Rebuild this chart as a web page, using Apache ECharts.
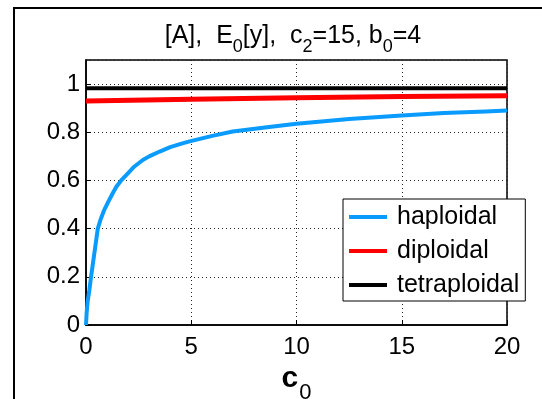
<!DOCTYPE html>
<html>
<head>
<meta charset="utf-8">
<script src="https://cdn.jsdelivr.net/npm/echarts@6/dist/echarts.min.js"></script>
<style>
  html, body { margin: 0; padding: 0; background: #fff; }
  #chart { width: 542px; height: 399px; }
</style>
</head>
<body>
<div id="chart"></div>
<script>
// values
const hapC = [0, 0.03, 0.08, 0.16, 0.24, 0.32, 0.4, 0.48, 0.56, 0.7, 0.87, 1.05, 1.27, 1.45, 1.67, 2.0, 2.3, 2.7, 3.0, 3.5, 4.0, 4.5, 4.92, 6.0, 6.97, 8.5, 10, 12.5, 15, 17, 19, 20]
const hapY = [0, 0.05, 0.1, 0.145, 0.2, 0.25, 0.3, 0.35, 0.4, 0.44, 0.478, 0.51, 0.547, 0.575, 0.6, 0.63, 0.658, 0.685, 0.7, 0.72, 0.738, 0.752, 0.762, 0.785, 0.803, 0.82, 0.835, 0.855, 0.87, 0.88, 0.886, 0.89]
const dipC = [0, 5, 10, 15, 20]
const dipY = [0.93, 0.937, 0.943, 0.948, 0.952]
const tetC = [0, 20]
const tetY = [0.983, 0.983]
const xTicks = [0, 5, 10, 15, 20]
const yTicks = [0, 0.2, 0.4, 0.6, 0.8, 1]

const zip = (xs, ys) => xs.map((x, i) => [x, ys[i]])
const FONT = 'Liberation Sans, Arial, sans-serif'

const chart = echarts.init(document.getElementById('chart'), null, { renderer: 'canvas' })

const dotted = { color: '#222', width: 1, type: [1, 3] }

chart.setOption({
  animation: false,
  backgroundColor: '#fff',
  textStyle: { fontFamily: FONT },
  graphic: [
    {
      type: 'polyline',
      shape: { points: [[14, 420], [14, 8], [560, 8]] },
      style: { stroke: '#000', lineWidth: 2, fill: null },
      silent: true,
    },
    {
      type: 'text',
      x: 293,
      y: 24,
      silent: true,
      style: {
        text: '{n|[A],  E}{s|0}{n|[y],  c}{s|2}{n|=15, b}{s|0}{n|=4}',
        align: 'center',
        verticalAlign: 'top',
        rich: {
          n: { fontSize: 25, fontFamily: FONT, fill: '#000', lineHeight: 30, verticalAlign: 'top' },
          s: { fontSize: 18, fontFamily: FONT, fill: '#000', lineHeight: 30, padding: [14, 0, 0, 0], verticalAlign: 'top' },
        },
      },
    },
  ],
  grid: {
    left: 86, right: 35, top: 60, bottom: 74,
    outerBoundsMode: 'none',
    containLabel: false,
    show: true, borderColor: '#000', borderWidth: 1.5, backgroundColor: '#fff',
  },
  legend: {
    left: 343,
    top: 199,
    orient: 'vertical',
    backgroundColor: '#fff',
    borderColor: '#000',
    borderWidth: 1,
    borderRadius: 0,
    padding: [5, 6, 3, 6],
    itemGap: 8,
    itemWidth: 38,
    itemHeight: 4,
    icon: 'rect',
    textStyle: { fontSize: 25, fontFamily: FONT, color: '#000', lineHeight: 26, padding: [0, 0, 0, 5] },
    data: ['haploidal', 'diploidal', 'tetraploidal'],
  },
  xAxis: {
    type: 'value',
    min: 0, max: 20, interval: 5,
    axisLine: { show: true, lineStyle: { color: '#000', width: 1.5 } },
    axisTick: { show: true, inside: true, length: 5, lineStyle: { color: '#000' } },
    axisLabel: {
      color: '#000', fontSize: 24, margin: 10, fontFamily: FONT,
      formatter: (v) => (xTicks.includes(v) ? String(v) : ''),
    },
    splitLine: { show: true, lineStyle: dotted },
    name: '{c|c}{s|0}',
    nameLocation: 'middle',
    nameGap: 36,
    nameTextStyle: {
      rich: {
        c: { fontSize: 30, fontWeight: 'bold', fontFamily: FONT, color: '#000', lineHeight: 34, verticalAlign: 'top' },
        s: { fontSize: 22, fontFamily: FONT, color: '#000', lineHeight: 34, padding: [18, 0, 0, 1], verticalAlign: 'top' },
      },
    },
  },
  yAxis: {
    type: 'value',
    min: 0, max: 1.1, interval: 0.2,
    axisLine: { show: true, lineStyle: { color: '#000', width: 1.5 } },
    axisTick: { show: true, inside: true, length: 5, lineStyle: { color: '#000' } },
    axisLabel: {
      color: '#000', fontSize: 24, margin: 6, fontFamily: FONT, showMaxLabel: false,
      formatter: (v) => {
        const t = yTicks.find((y) => Math.abs(y - v) < 1e-6)
        return t === undefined ? '' : String(t)
      },
    },
    splitLine: { show: true, lineStyle: dotted },
  },
  series: [
    {
      name: 'haploidal', type: 'line', data: zip(hapC, hapY), showSymbol: false,
      lineStyle: { color: '#0a9bff', width: 4, join: 'round' }, itemStyle: { color: '#0a9bff' }, z: 3,
    },
    {
      name: 'diploidal', type: 'line', data: zip(dipC, dipY), showSymbol: false,
      lineStyle: { color: '#ff0000', width: 5 }, itemStyle: { color: '#ff0000' }, z: 3,
    },
    {
      name: 'tetraploidal', type: 'line', data: zip(tetC, tetY), showSymbol: false,
      lineStyle: { color: '#000', width: 4 }, itemStyle: { color: '#000' }, z: 3,
    },
  ],
})
</script>
</body>
</html>
